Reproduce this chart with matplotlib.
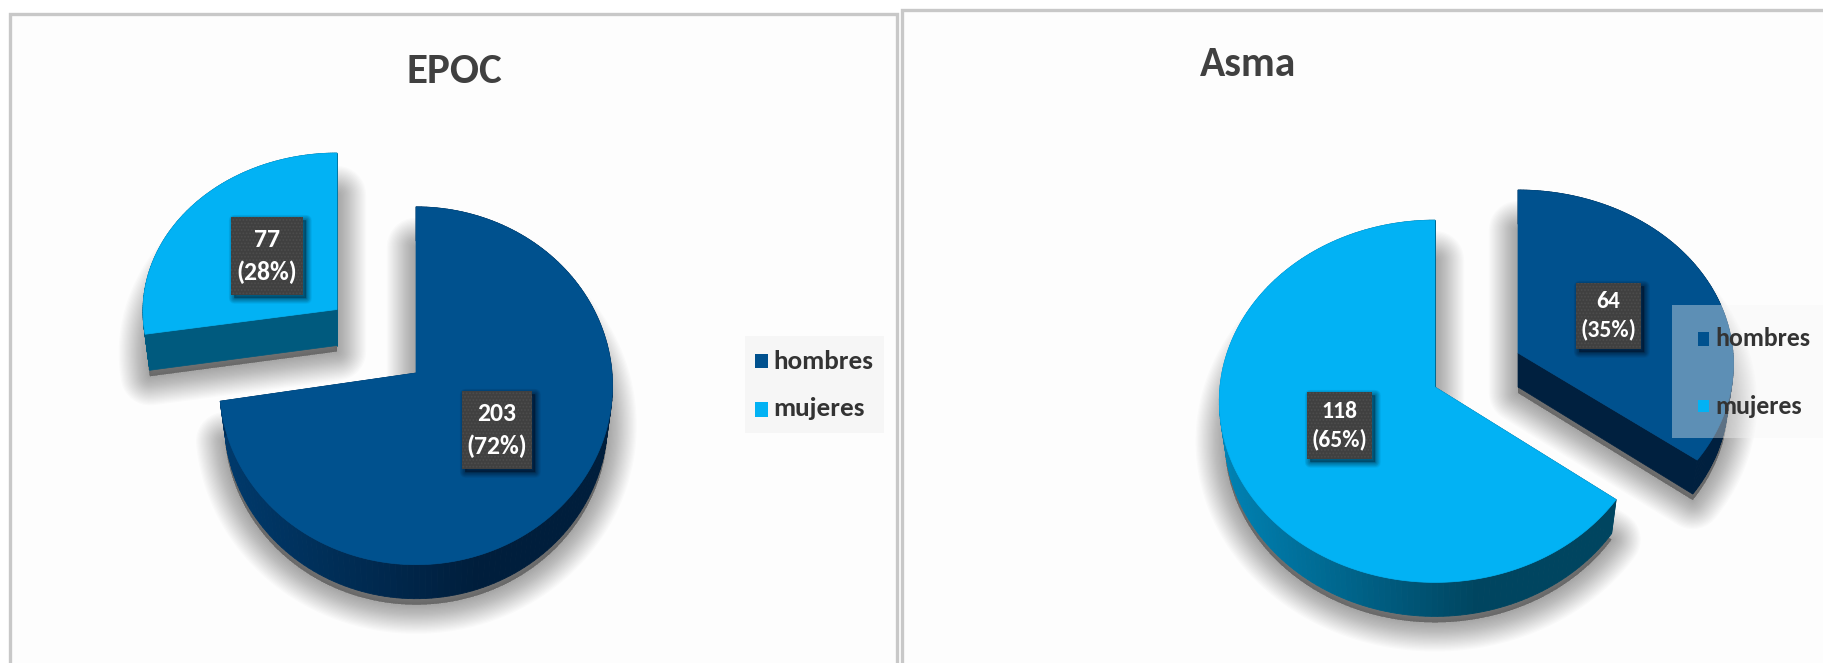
import numpy as np
import matplotlib
matplotlib.use('Agg')
import matplotlib.pyplot as plt
from matplotlib.patches import Rectangle
from matplotlib.colors import to_rgb

plt.rcParams['font.family'] = ['Carlito', 'Barlow Semi Condensed', 'Liberation Sans', 'DejaVu Sans']
plt.rcParams['hatch.linewidth'] = 0.8

categories = ['hombres', 'mujeres']
epoc_values = [203, 77]
asma_values = [64, 118]

HOMBRES = '#00518E'
MUJERES = '#02B2F4'
TEXT = '#333333'

fig = plt.figure(figsize=(18.23, 6.63), dpi=100, facecolor='white')
ax = fig.add_axes([0, 0, 1, 1])
ax.set_xlim(0, 1823)
ax.set_ylim(663, 0)
ax.axis('off')


def slice_angles(values):
    # pie goes clockwise from 12 o'clock
    fracs = np.cumsum([0] + list(values)) / sum(values)
    return 90 - 360 * fracs


def outline(th, cx, cy, a, b, k, shrink=1.0):
    # tilted disc: the far side is squeezed, so the centre sits above the middle
    t = np.radians(th)
    w = 1 + k * np.sin(t)
    return cx + shrink * b * np.cos(t) / w, cy - a * np.sin(t) / w


def blend(c1, c2, f):
    c1, c2 = np.array(to_rgb(c1)), np.array(to_rgb(c2))
    return tuple(c1 + (c2 - c1) * f)


def soft_shadow(x, y, dy=6, spread=42, z=2, strength=0.016, layers=24):
    for lw in np.linspace(spread, 1, layers):
        ax.fill(x, y + dy, facecolor='black', edgecolor='black', lw=lw, alpha=strength,
                joinstyle='round', zorder=z)


def draw_slice(t_start, t_end, color, side_l, side_r, radial, cx, cy, a, b, k, depth):
    th = np.linspace(t_start, t_end, 160)
    ux, uy = outline(th, cx, cy, a, b, k)
    lx, ly = outline(th, cx, cy, a, b, k, shrink=0.975)
    ly = ly + depth

    top_x = np.r_[cx, ux]
    top_y = np.r_[cy, uy]
    soft_shadow(np.r_[cx, lx], np.r_[cy + depth, ly])

    # outer wall, shaded from left to right
    x0, x1 = ux.min(), ux.max()
    for i in range(len(th) - 1):
        f = ((ux[i] + ux[i + 1]) / 2 - x0) / (x1 - x0)
        c = blend(side_l, side_r, min(f / 0.65, 1))
        ax.fill([ux[i], ux[i + 1], lx[i + 1], lx[i]], [uy[i], uy[i + 1], ly[i + 1], ly[i]],
                facecolor=c, edgecolor=c, lw=0.6, zorder=3)
    # cut faces
    for j in (0, -1):
        ax.fill([cx, ux[j], lx[j], cx], [cy, uy[j], ly[j], cy + depth],
                facecolor=radial, edgecolor=radial, lw=0.5, zorder=3)
    ax.fill(top_x, top_y, facecolor=color, edgecolor=color, lw=0.5, zorder=4)


def value_box(x0, x1, y0, y1, value, total, size, spacing):
    soft_shadow(np.array([x0, x1, x1, x0]) + 3, np.array([y0, y0, y1, y1]), dy=3, spread=8, z=5,
                strength=0.03, layers=12)
    ax.add_patch(Rectangle((x0, y0), x1 - x0, y1 - y0, facecolor='#404040', edgecolor='#4D4D4D',
                           hatch='.....', lw=0, zorder=6))
    ax.text((x0 + x1) / 2, (y0 + y1) / 2, f'{value}\n({round(100 * value / total)}%)',
            color='white', fontsize=size, fontweight='bold', ha='center', va='center',
            linespacing=spacing, zorder=7)


def legend_block(x0, x1, y0, y1, alpha, sq_x0, sq_x1, sq_y, text_x, text_y, size):
    ax.add_patch(Rectangle((x0, y0), x1 - x0, y1 - y0, facecolor='#F6F6F6', edgecolor='none',
                           alpha=alpha, zorder=8))
    for name, col, (s0, s1), ty in zip(categories, [HOMBRES, MUJERES], sq_y, text_y):
        ax.add_patch(Rectangle((sq_x0, s0), sq_x1 - sq_x0, s1 - s0, facecolor=col, edgecolor='none', zorder=9))
        ax.text(text_x, ty, name, color=TEXT, fontsize=size, fontweight='bold', ha='left', va='center', zorder=9)


# panel frames
ax.add_patch(Rectangle((10, 13.5), 887, 700, facecolor='#FDFDFD', edgecolor='#C8C8C8', lw=2.4, zorder=1))
ax.add_patch(Rectangle((901.5, 10), 1000, 700, facecolor='#FDFDFD', edgecolor='#C8C8C8', lw=2.4, zorder=1))

# EPOC
t = slice_angles(epoc_values)
draw_slice(t[0], t[1], HOMBRES, '#003A6C', '#001E3C', '#002A50', 416, 373, 178, 196, 0.0714, 34)
draw_slice(t[1], t[2], MUJERES, '#005A7E', '#005A7E', '#005A7E', 337, 309.5, 158, 194, 0.01, 36)
ax.text(454, 71.5, 'EPOC', color='#404040', fontsize=31, fontweight='bold', ha='center', va='center', zorder=9)
value_box(231, 302.5, 217, 295, epoc_values[1], sum(epoc_values), 18.5, 1.5)
value_box(462, 531.5, 391, 468.5, epoc_values[0], sum(epoc_values), 18.5, 1.5)
legend_block(745, 884, 336, 433, 1, 755, 768, [(354, 368), (402, 417)], 773, [361.5, 409], 19.5)

# Asma
t = slice_angles(asma_values)
draw_slice(t[0], t[1], HOMBRES, '#00203F', '#00203F', '#00203F', 1518, 353, 173, 215, 0.0615, 34)
draw_slice(t[1], t[2], MUJERES, '#0083B5', '#004560', '#004560', 1435, 387, 180, 215, 0.0788, 34)
ax.text(1248.5, 65, 'Asma', color='#404040', fontsize=30, fontweight='bold', ha='center', va='center', zorder=9)
value_box(1576, 1641, 282.5, 349, asma_values[0], sum(asma_values), 17, 1.4)
value_box(1307, 1372, 392, 459, asma_values[1], sum(asma_values), 17, 1.4)
legend_block(1672, 1823, 304.5, 438, 0.38, 1698, 1709, [(332, 346), (399.5, 412)], 1715, [338, 406], 18.5)

fig.savefig('out.png', dpi=100)
